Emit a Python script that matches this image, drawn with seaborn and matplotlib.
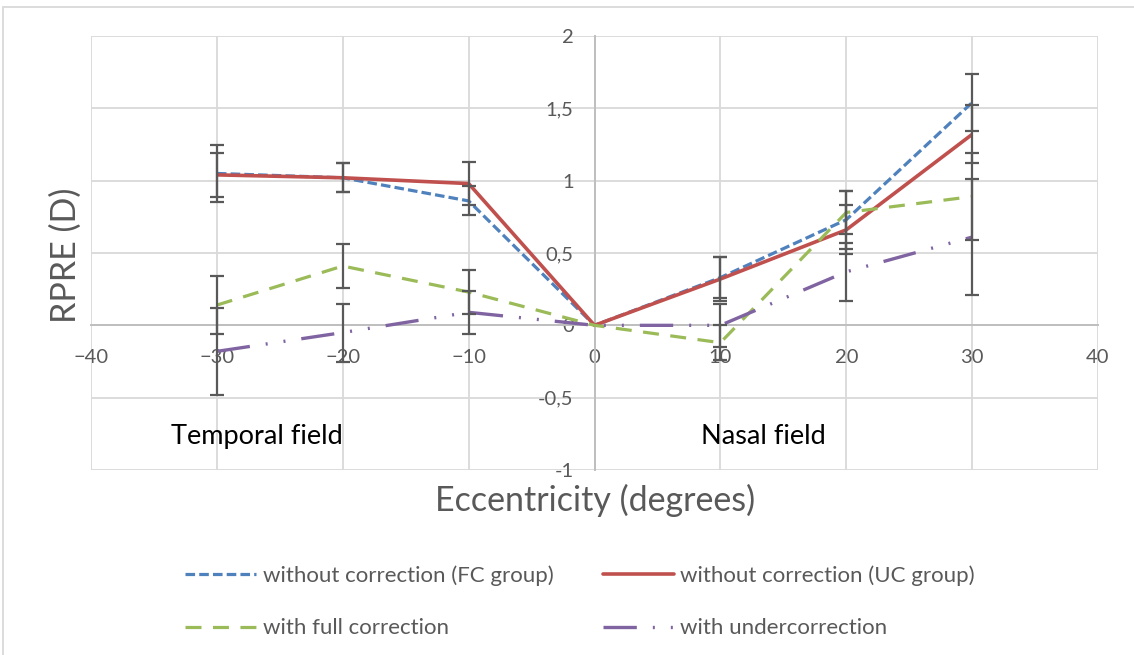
import numpy as np
import pandas as pd
import seaborn as sns
import matplotlib
matplotlib.use("Agg")
import matplotlib.pyplot as plt
from matplotlib.patches import Rectangle
from matplotlib.lines import Line2D

# ---------------- data ----------------
eccentricity = [-30, -20, -10, 0, 10, 20, 30]
fc_without = [1.05, 1.02, 0.86, 0.0, 0.33, 0.73, 1.54]
fc_without_err = [0.20, 0.10, 0.10, 0.0, 0.14, 0.20, 0.20]
uc_without = [1.04, 1.02, 0.98, 0.0, 0.32, 0.66, 1.32]
uc_without_err = [0.15, 0.10, 0.15, 0.0, 0.15, 0.17, 0.20]
full_corr = [0.14, 0.41, 0.23, 0.0, -0.12, 0.78, 0.89]
full_corr_err = [0.20, 0.15, 0.15, 0.0, 0.12, 0.15, 0.30]
under_corr = [-0.18, -0.05, 0.09, 0.0, 0.0, 0.37, 0.61]
under_corr_err = [0.30, 0.20, 0.15, 0.0, 0.15, 0.20, 0.40]

series_names = ["without correction (FC group)", "without correction (UC group)",
                "with full correction", "with undercorrection"]
x_ticks = [-40, -30, -20, -10, 0, 10, 20, 30, 40]
y_ticks = [-1, -0.5, 0, 0.5, 1, 1.5, 2]
y_tick_labels = ["-1", "-0,5", "0", "0,5", "1", "1,5", "2"]

# ---------------- style ----------------
sns.set_theme(style="white")
plt.rcParams["font.family"] = ["Lato", "DejaVu Sans"]

colors = {series_names[0]: "#4F81BD", series_names[1]: "#C0504D",
          series_names[2]: "#9BBB59", series_names[3]: "#8064A2"}
widths = {series_names[0]: 2.3, series_names[1]: 2.6,
          series_names[2]: 2.3, series_names[3]: 2.4}
dashes = {series_names[0]: (3.0, 1.3), series_names[1]: "",
          series_names[2]: (5.0, 3.6), series_names[3]: (10.0, 4.8, 0.6, 4.8, 0.6, 4.8)}

rows = []
for name, vals, errs in zip(series_names,
                            [fc_without, uc_without, full_corr, under_corr],
                            [fc_without_err, uc_without_err, full_corr_err, under_corr_err]):
    for xv, yv, ev in zip(eccentricity, vals, errs):
        rows.append({"x": xv, "y": yv, "err": ev, "series": name})
df = pd.DataFrame(rows)

fig = plt.figure(figsize=(11.34, 6.55), dpi=100)
ax = fig.add_axes([91 / 1134, 1 - 470 / 655, (1098 - 91) / 1134, (470 - 36) / 655])

grid_c = "#D9D9D9"
axis_c = "#BFBFBF"
text_c = "#595959"

for name in series_names:
    sub = df[df["series"] == name]
    sns.lineplot(data=sub, x="x", y="y", ax=ax, color=colors[name], sort=False,
                 linewidth=widths[name], dashes=False, legend=False, zorder=3)
    line = ax.lines[-1]
    if dashes[name]:
        line.set_dashes(dashes[name])
    line.set_dash_capstyle("butt")
    line.set_solid_capstyle("butt")

for name in series_names:
    sub = df[(df["series"] == name) & (df["err"] > 0)]
    ax.errorbar(sub["x"], sub["y"], yerr=sub["err"], fmt="none", ecolor="#595959",
                elinewidth=1.6, capsize=4.8, capthick=1.6, zorder=4)

ax.set_xlabel("")
ax.set_ylabel("")
ax.set_xlim(-40, 40)
ax.set_ylim(-1, 2)
ax.set_xticks(x_ticks)
ax.set_yticks(y_ticks)
ax.set_yticklabels(y_tick_labels)
ax.grid(True, color=grid_c, linewidth=1.3, zorder=0)
ax.set_axisbelow(True)
for s in ["top", "right"]:
    ax.spines[s].set_visible(False)
ax.spines["left"].set_position(("data", 0))
ax.spines["bottom"].set_position(("data", 0))
for s in ["left", "bottom"]:
    ax.spines[s].set_color(axis_c)
    ax.spines[s].set_linewidth(1.4)
    ax.spines[s].set_zorder(1)
ax.tick_params(axis="both", length=0, labelsize=14.5, labelcolor=text_c)
ax.tick_params(axis="y", pad=15)
ax.tick_params(axis="x", pad=17)

fig.text(66 / 1134, 1 - 255 / 655, "RPRE (D)", rotation=90, ha="center", va="center",
         fontsize=24.5, color=text_c)
fig.text(595 / 1134, 1 - 500 / 655, "Eccentricity (degrees)", ha="center", va="center",
         fontsize=24.5, color=text_c)

ax.text(-26.8, -0.77, "Temporal field", ha="center", va="center", fontsize=19.5, color="black")
ax.text(13.4, -0.77, "Nasal field", ha="center", va="center", fontsize=19.5, color="black")

handles = []
for name in [series_names[0], series_names[2], series_names[1], series_names[3]]:
    h = Line2D([0], [0], color=colors[name], linewidth=widths[name])
    if dashes[name]:
        h.set_dashes(dashes[name])
    h.set_dash_capstyle("butt")
    handles.append(h)
labels = [series_names[0], series_names[2], series_names[1], series_names[3]]
leg = fig.legend(handles, labels, ncol=2, loc="center", bbox_to_anchor=(580 / 1134, 1 - 602 / 655),
                 frameon=False, fontsize=16, handlelength=3.2, handletextpad=0.3,
                 columnspacing=2.2, labelspacing=1.45, labelcolor=text_c)

fig.add_artist(Rectangle((3 / 1134, -0.1), 1.2, 1 - 7 / 655 + 0.1, transform=fig.transFigure,
                         fill=False, edgecolor="#D9D9D9", linewidth=1.3))

fig.savefig("out.png", dpi=100)
